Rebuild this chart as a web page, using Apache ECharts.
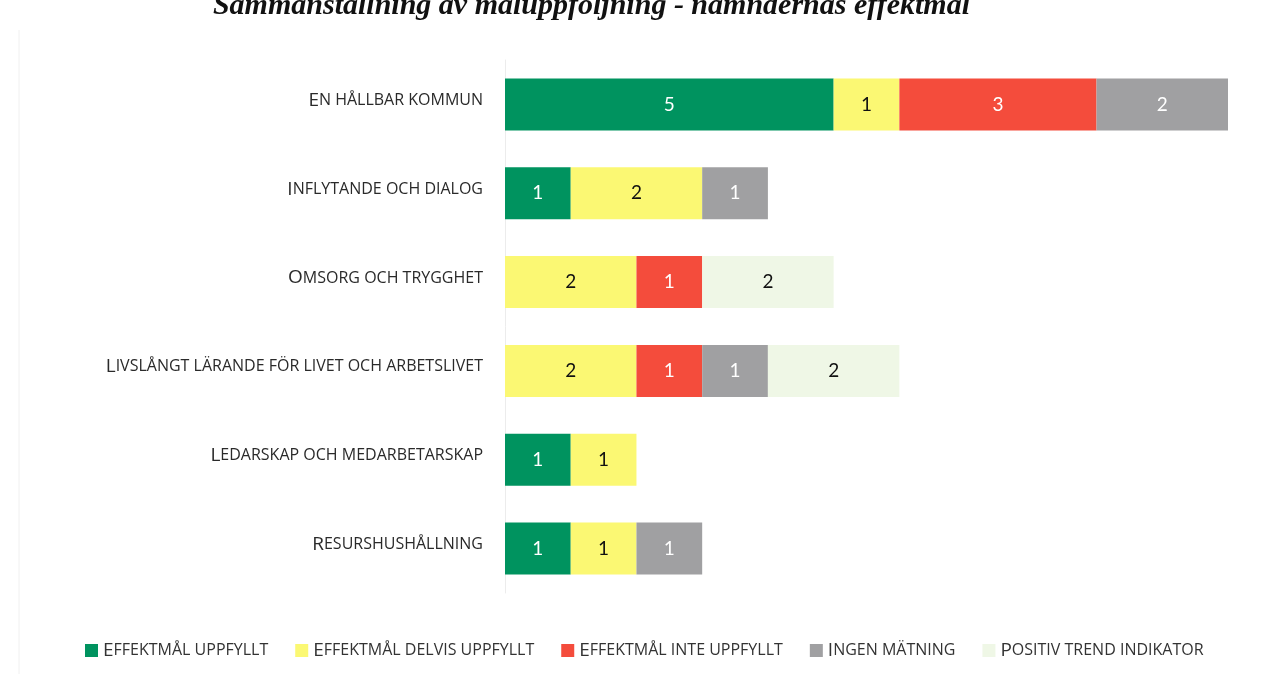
<html>
<head>
<meta charset="utf-8" />
<title>Effektmål</title>
<script src="https://cdn.jsdelivr.net/npm/echarts@6/dist/echarts.min.js"></script>
<style>
  body { margin: 0; background: #fff; }
  #main { width: 1284px; height: 674px; }
</style>
</head>
<body>
<div id="main"></div>
<script type="text/javascript">
  // categories (top to bottom)
  var categories = [
    'En hållbar kommun',
    'Inflytande och dialog',
    'Omsorg och trygghet',
    'Livslångt lärande för livet och arbetslivet',
    'Ledarskap och medarbetarskap',
    'Resurshushållning'
  ];
  var seriesNames = [
    'Effektmål uppfyllt',
    'Effektmål delvis uppfyllt',
    'Effektmål inte uppfyllt',
    'Ingen mätning',
    'Positiv trend indikator'
  ];
  var uppfyllt = [5, 1, 0, 0, 1, 1];
  var delvis   = [1, 2, 2, 2, 1, 1];
  var inte     = [3, 0, 1, 1, 0, 0];
  var ingen    = [2, 1, 0, 1, 0, 1];
  var positiv  = [0, 0, 2, 2, 0, 0];

  var colors = ['#00935f', '#fbf873', '#f44c3c', '#a0a0a2', '#eff7e6'];
  var labelColors = ['#ffffff', '#111111', '#ffffff', '#ffffff', '#111111'];

  // small caps via rich text: capitals large, the rest upper-cased and smaller
  function smallCaps(txt) {
    var out = '', cur = null, buf = '';
    for (var i = 0; i < txt.length; i++) {
      var ch = txt[i];
      var big = ch !== ch.toLowerCase();
      var st = big ? 'b' : 's';
      if (st !== cur && buf) { out += '{' + cur + '|' + buf + '}'; buf = ''; }
      cur = st;
      buf += ch.toUpperCase();
    }
    if (buf) out += '{' + cur + '|' + buf + '}';
    return out;
  }

  var allData = [uppfyllt, delvis, inte, ingen, positiv];
  var series = [];
  for (var k = 0; k < seriesNames.length; k++) {
    series.push({
      name: seriesNames[k],
      type: 'bar',
      stack: 'total',
      barWidth: 52,
      data: allData[k],
      itemStyle: { color: colors[k] },
      label: {
        show: true,
        position: 'inside',
        color: labelColors[k],
        fontFamily: 'Lato',
        fontSize: 19,
        formatter: function (p) { return p.value ? String(p.value) : ''; }
      }
    });
  }

  var myChart = echarts.init(document.getElementById('main'));
  var option = {
    animation: false,
    color: colors,
    graphic: [{
      type: 'text',
      right: 314,
      top: -9,
      style: {
        text: 'Sammanställning av måluppföljning - nämndernas effektmål',
        font: 'italic bold 30px "Liberation Serif"',
        fill: '#111'
      }
    }, {
      type: 'line',
      shape: { x1: 19, y1: 30, x2: 19, y2: 674 },
      style: { stroke: '#f0f0f0', lineWidth: 1 }
    }],
    legend: {
      left: 80,
      top: 636,
      itemWidth: 13,
      itemHeight: 13,
      itemGap: 27,
      icon: 'rect',
      data: seriesNames,
      formatter: function (name) { return smallCaps(name); },
      textStyle: {
        color: '#333',
        rich: {
          b: { fontFamily: 'Open Sans', fontSize: 19, color: '#333' },
          s: { fontFamily: 'Open Sans', fontSize: 16, color: '#333' }
        }
      }
    },
    grid: {
      left: 505,
      right: 56,
      top: 60,
      bottom: 81
    },
    xAxis: {
      type: 'value',
      min: 0,
      max: 11,
      show: false
    },
    yAxis: {
      type: 'category',
      inverse: true,
      data: categories,
      axisLine: { show: true, lineStyle: { color: '#ececec' } },
      axisTick: { show: false },
      axisLabel: {
        margin: 22,
        formatter: function (v) { return smallCaps(v); },
        rich: {
          b: { fontFamily: 'Open Sans', fontSize: 19, color: '#2a2a2a', padding: [0, 0, 8, 0] },
          s: { fontFamily: 'Open Sans', fontSize: 16, color: '#2a2a2a', padding: [0, 0, 8, 0] }
        }
      }
    },
    series: series
  };
  myChart.setOption(option);
</script>
</body>
</html>
